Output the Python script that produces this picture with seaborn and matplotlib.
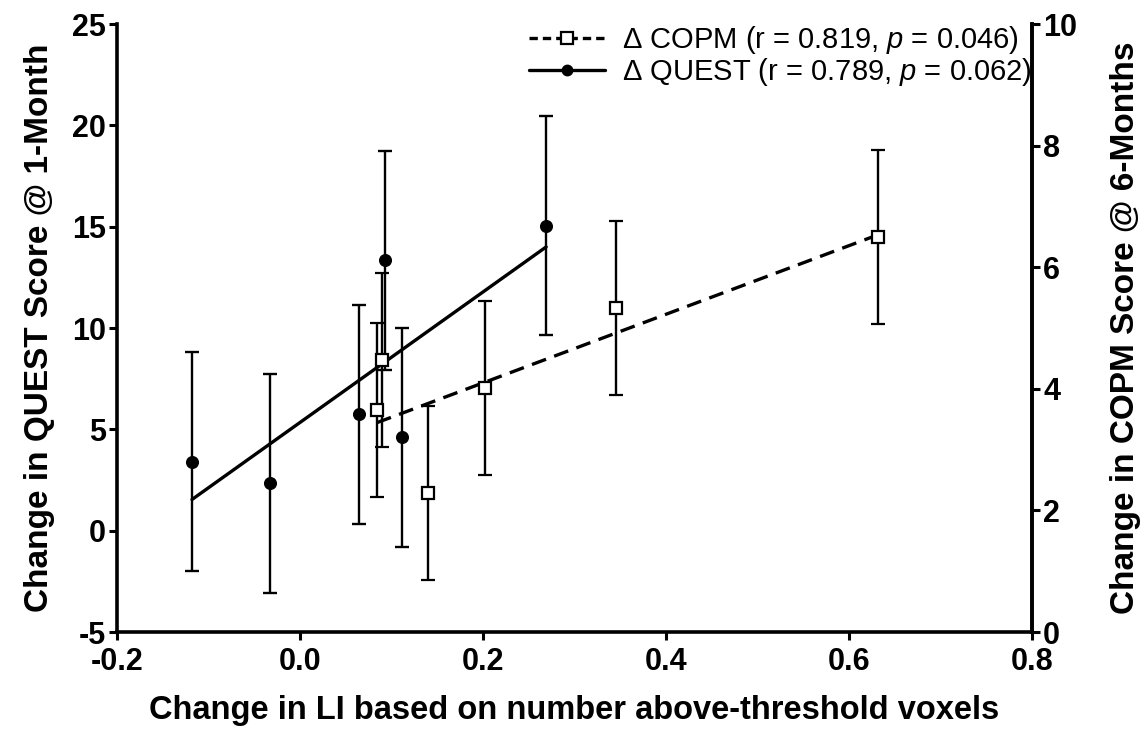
import numpy as np
import pandas as pd
import seaborn as sns
import matplotlib
matplotlib.use("Agg")
import matplotlib.pyplot as plt
from matplotlib.lines import Line2D

# change in LI vs. change in QUEST (1 month), left axis
quest_x = [-0.118, -0.033, 0.064, 0.093, 0.112, 0.269]
quest_y = [3.4, 2.35, 5.75, 13.35, 4.6, 15.05]
quest_err = [5.4, 5.4, 5.4, 5.4, 5.4, 5.4]

# change in LI vs. change in COPM (6 months), right axis
copm_x = [0.084, 0.090, 0.140, 0.202, 0.345, 0.632]
copm_y = [3.65, 4.47, 2.28, 4.01, 5.33, 6.50]
copm_err = [1.43, 1.43, 1.43, 1.43, 1.43, 1.43]

quest_label = "Δ QUEST (r = 0.789, $\\mathit{p}$ = 0.062)"
copm_label = "Δ COPM (r = 0.819, $\\mathit{p}$ = 0.046)"

quest = pd.DataFrame({"x": quest_x, "y": quest_y, "err": quest_err})
copm = pd.DataFrame({"x": copm_x, "y": copm_y, "err": copm_err})

sns.set_style("ticks")
plt.rcParams["font.family"] = ["Liberation Sans", "DejaVu Sans"]
plt.rcParams["mathtext.fontset"] = "custom"
plt.rcParams["mathtext.rm"] = "Liberation Sans"
plt.rcParams["mathtext.it"] = "Liberation Sans:italic"
plt.rcParams["axes.unicode_minus"] = False
plt.rcParams["text.color"] = "black"
plt.rcParams["axes.labelcolor"] = "black"
plt.rcParams["xtick.color"] = "black"
plt.rcParams["ytick.color"] = "black"
plt.rcParams["axes.edgecolor"] = "black"

fig = plt.figure(figsize=(11.48, 7.35), dpi=100)
ax = fig.add_axes([0.1019, 0.1401, 0.7971, 0.8272])
ax2 = ax.twinx()

# fit lines
sns.regplot(data=quest, x="x", y="y", ax=ax, scatter=False, ci=None,
            line_kws={"color": "black", "lw": 2.4})
sns.regplot(data=copm, x="x", y="y", ax=ax2, scatter=False, ci=None,
            line_kws={"color": "black", "lw": 2.4, "dashes": (4.5, 2.6)})

# points with error bars
ax.errorbar(quest.x, quest.y, yerr=quest.err, fmt="o", color="black", ms=8.4,
            elinewidth=1.7, capsize=5, capthick=1.7, zorder=3)
ax2.errorbar(copm.x, copm.y, yerr=copm.err, fmt="s", color="black", mfc="white",
             mec="black", mew=1.6, ms=8.5, elinewidth=1.7, capsize=5,
             capthick=1.7, zorder=3)

ax.set_xlim(-0.2, 0.8)
ax.set_ylim(-5, 25)
ax2.set_ylim(0, 10)
ax.set_xticks(np.arange(-0.2, 0.81, 0.2))
ax.set_xticklabels(["-0.2", "0.0", "0.2", "0.4", "0.6", "0.8"])
ax.set_yticks(np.arange(-5, 26, 5))
ax2.set_yticks(np.arange(0, 11, 2))

for a in (ax, ax2):
    a.spines["top"].set_visible(False)
    for s in a.spines.values():
        s.set_linewidth(2.6)
    a.tick_params(width=2.2, length=6, labelsize=22, pad=2)
    for lab in a.get_xticklabels() + a.get_yticklabels():
        lab.set_fontweight("bold")
ax.tick_params(axis="x", pad=5)
ax2.spines["left"].set_visible(False)
ax2.spines["bottom"].set_visible(False)

ax.set_xlabel("Change in LI based on number above-threshold voxels",
              fontsize=23.5, fontweight="bold", labelpad=13)
ax.set_ylabel("Change in QUEST Score @ 1-Month", fontsize=24,
              fontweight="bold", labelpad=12)
ax2.set_ylabel("Change in COPM Score @ 6-Months", fontsize=24,
               fontweight="bold", labelpad=24)

handles = [
    Line2D([], [], color="black", lw=2.4, dashes=(2.5, 1.5), marker="s",
           mfc="white", mec="black", mew=1.6, ms=8),
    Line2D([], [], color="black", lw=2.4, marker="o", ms=7.5),
]
ax.legend(handles, [copm_label, quest_label], loc="upper right",
          bbox_to_anchor=(1.0, 1.0), frameon=False, fontsize=21,
          handlelength=2.6, handletextpad=0.6, labelspacing=0.0,
          borderaxespad=0, borderpad=0)

fig.savefig("out.png", dpi=100)
